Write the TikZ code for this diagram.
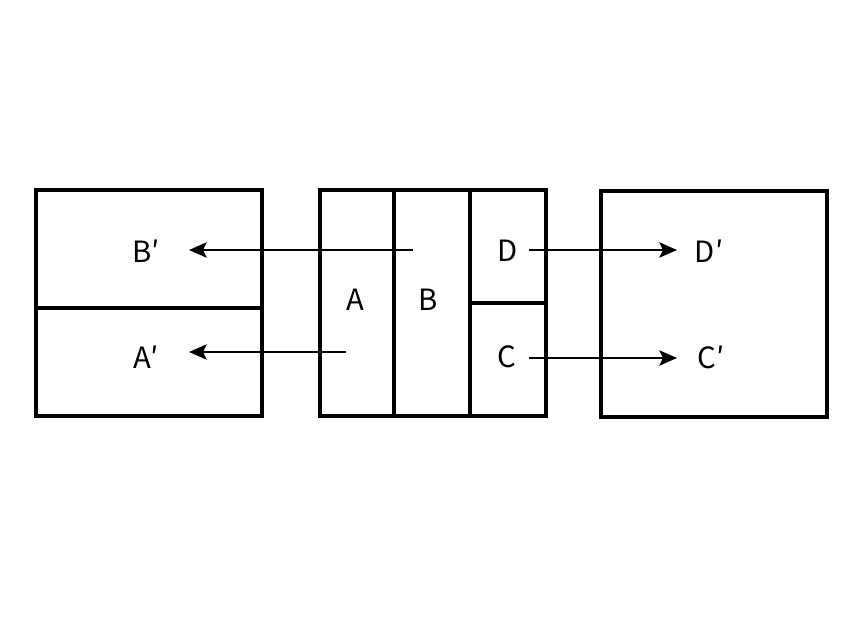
\documentclass[tikz,border=0pt]{standalone}
\usepackage{fontspec}
\setmainfont{Noto Sans CJK JP}
\usetikzlibrary{arrows.meta,calc}

\begin{document}
\begin{tikzpicture}[x=0.03cm, y=-0.03cm,
    frame/.style={line width=3pt},
    mover/.style={line width=2pt, -{Stealth[length=15pt,width=13pt,inset=3pt]}},
    tag/.style={font=\fontsize{25}{30}\selectfont, inner sep=0pt}]
                \useasboundingbox (0,0) rectangle (857,621);
                % source block
                \path[draw, frame](320,190)rectangle(546,416);
                \path[draw, frame](394,190)to(394,416);
                \path[draw, frame](470,190)to(470,416);
                \path[draw, frame](470,303)to(546,303);
                % target blocks
                \path[draw, frame](36,190)rectangle(262,416);
                \path[draw, frame](36,308)to(262,308);
                \path[draw, frame](601,191)rectangle(827,417);
                % labels
                \node[tag](A)at(355,300){A};
                \node[tag](B)at(428,300){B};
                \node[tag](D)at(508,251){D};
                \node[tag](C)at(507,357){C};
                \node[tag](B')at(146,251){B′};
                \node[tag](A')at(146,357){A′};
                \node[tag](D')at(709,251){D′};
                \node[tag](C')at(711,357){C′};
                % arrow ends
                \coordinate(Bs)at(413,250);
                \coordinate(Be)at(189,250);
                \coordinate(As)at(346,352);
                \coordinate(Ae)at(189,352);
                \coordinate(Ds)at(529,250);
                \coordinate(De)at(677,250);
                \coordinate(Cs)at(529,358);
                \coordinate(Ce)at(677,358);
                % moves
                \path[draw, mover](Bs)to(Be);
                \path[draw, mover](As)to(Ae);
                \path[draw, mover](Ds)to(De);
                \path[draw, mover](Cs)to(Ce);
\end{tikzpicture}
\end{document}
